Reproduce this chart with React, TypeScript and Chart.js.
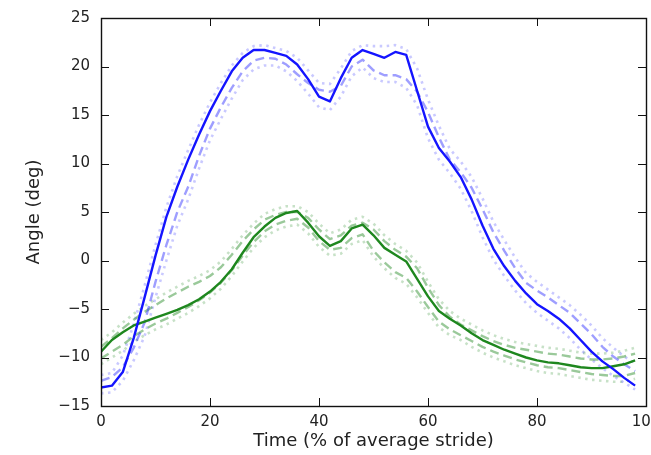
import React, { useEffect, useRef } from "react";
import { Chart, registerables } from "chart.js";

Chart.register(...registerables);

const xs = [0, 2, 4, 6, 8, 10, 12, 14, 16, 18, 20, 22, 24, 26, 28, 30, 32, 34, 36, 38, 40, 42, 44, 46, 48, 50, 52, 54, 56, 58, 60, 62, 64, 66, 68, 70, 72, 74, 76, 78, 80, 82, 84, 86, 88, 90, 92, 94, 96, 98];

const blueSolid = [-13.1, -12.9, -11.5, -8.0, -3.8, 0.5, 4.5, 7.6, 10.4, 13.0, 15.4, 17.5, 19.5, 20.9, 21.7, 21.7, 21.4, 21.1, 20.2, 18.7, 16.9, 16.4, 18.8, 20.9, 21.7, 21.3, 20.9, 21.5, 21.2, 17.5, 13.8, 11.6, 10.2, 8.6, 6.3, 3.6, 1.2, -0.6, -2.1, -3.4, -4.5, -5.2, -6.0, -7.0, -8.2, -9.4, -10.4, -11.2, -12.1, -12.9];
const blueDashed = [-12.4, -12.0, -11.0, -9.0, -6.4, -2.2, 1.6, 5.0, 7.6, 10.8, 13.6, 15.8, 17.8, 19.5, 20.6, 20.9, 20.8, 20.2, 19.2, 18.3, 17.6, 17.4, 18.0, 20.0, 20.7, 19.6, 19.1, 19.1, 18.7, 17.4, 15.3, 12.7, 10.4, 9.1, 7.5, 5.3, 2.9, 1.0, -0.8, -2.3, -3.1, -3.8, -4.6, -5.4, -6.5, -7.6, -8.9, -9.9, -10.7, -11.4];
const blueDotUpper = [-11.8, -11.6, -9.8, -6.6, -2.6, 1.6, 5.5, 8.7, 11.4, 14.0, 16.3, 18.3, 20.1, 21.4, 22.1, 22.2, 21.9, 21.6, 20.9, 19.6, 18.3, 18.2, 19.8, 21.6, 22.2, 22.1, 22.1, 22.2, 21.8, 19.8, 16.6, 13.9, 11.5, 10.2, 8.6, 6.4, 4.0, 2.1, 0.3, -1.3, -2.2, -3.0, -3.8, -4.6, -5.6, -6.7, -8.0, -9.0, -9.9, -10.6];
const blueDotLower = [-13.7, -13.6, -12.4, -10.3, -7.8, -3.8, 0.0, 3.6, 6.3, 9.5, 12.4, 14.6, 16.7, 18.6, 19.7, 20.1, 20.1, 19.5, 18.5, 17.2, 15.8, 15.5, 16.9, 19.0, 19.9, 18.8, 18.4, 18.4, 17.8, 16.0, 12.6, 10.4, 9.0, 7.4, 5.1, 2.4, 0.1, -1.6, -3.1, -4.4, -5.4, -6.2, -7.0, -8.0, -9.2, -10.2, -11.1, -11.9, -12.6, -13.3];

const greenSolid = [-9.4, -8.2, -7.4, -6.7, -6.3, -5.9, -5.5, -5.1, -4.6, -4.0, -3.2, -2.2, -0.9, 0.8, 2.4, 3.5, 4.4, 4.9, 5.1, 3.9, 2.5, 1.5, 2.0, 3.3, 3.7, 2.6, 1.3, 0.6, -0.1, -1.9, -3.7, -5.2, -6.0, -6.7, -7.5, -8.2, -8.7, -9.2, -9.6, -10.0, -10.3, -10.5, -10.6, -10.8, -11.0, -11.1, -11.1, -10.9, -10.7, -10.3];
const greenDashUpper = [-8.9, -8.0, -7.0, -6.1, -5.3, -4.6, -3.9, -3.3, -2.7, -2.2, -1.6, -0.7, 0.6, 2.0, 3.2, 4.2, 4.7, 5.0, 5.0, 4.4, 3.2, 2.2, 2.6, 3.6, 3.9, 3.2, 2.0, 1.1, 0.4, -0.8, -2.8, -4.6, -5.8, -6.6, -7.2, -7.8, -8.3, -8.7, -9.0, -9.2, -9.4, -9.6, -9.7, -9.9, -10.1, -10.2, -10.2, -10.1, -9.9, -9.6];
const greenDashLower = [-10.1, -9.4, -8.7, -7.8, -7.1, -6.5, -6.0, -5.4, -4.8, -4.1, -3.3, -2.3, -1.0, 0.5, 1.9, 3.0, 3.7, 4.1, 4.3, 3.4, 2.0, 1.1, 1.3, 2.3, 2.7, 1.0, -0.2, -1.2, -1.8, -3.2, -4.8, -6.3, -7.1, -7.7, -8.3, -8.9, -9.4, -9.8, -10.2, -10.5, -10.8, -11.0, -11.1, -11.3, -11.5, -11.7, -11.8, -11.9, -11.9, -11.6];
const greenDotUpper = [-8.2, -7.4, -6.4, -5.5, -4.7, -4.0, -3.3, -2.7, -2.1, -1.6, -1.0, -0.1, 1.2, 2.6, 3.8, 4.8, 5.3, 5.6, 5.6, 5.0, 3.8, 2.8, 3.2, 4.2, 4.5, 3.8, 2.6, 1.7, 1.0, -0.2, -2.2, -4.0, -5.2, -6.0, -6.6, -7.2, -7.7, -8.1, -8.4, -8.6, -8.8, -9.0, -9.1, -9.3, -9.5, -9.6, -9.6, -9.5, -9.3, -9.0];
const greenDotLower = [-10.7, -10.0, -9.3, -8.4, -7.7, -7.1, -6.6, -6.0, -5.4, -4.7, -3.9, -2.9, -1.6, -0.1, 1.3, 2.4, 3.1, 3.5, 3.7, 2.8, 1.4, 0.5, 0.7, 1.7, 2.1, 0.4, -0.8, -1.8, -2.4, -3.8, -5.4, -6.9, -7.7, -8.2, -8.9, -9.5, -10.0, -10.4, -10.8, -11.1, -11.4, -11.6, -11.7, -11.9, -12.1, -12.3, -12.4, -12.5, -12.5, -12.2];

const xTicks = [0, 20, 40, 60, 80, 100];
const yTicks = [-15, -10, -5, 0, 5, 10, 15, 20, 25];

const BLUE = "rgb(20,20,255)";
const GREEN = "rgb(30,135,30)";

function pts(arr: number[]) {
  return xs.map((x, i) => ({ x, y: arr[i] }));
}

function ds(label: string, arr: number[], color: string, kind: "solid" | "dash" | "dot") {
  return {
    label,
    data: pts(arr),
    borderColor: color,
    borderWidth: kind === "solid" ? 2.4 : kind === "dash" ? 2.4 : 2.6,
    borderDash: kind === "dash" ? [9, 5] : kind === "dot" ? [2.5, 4.5] : [],
    borderCapStyle: "butt",
    borderJoinStyle: "round",
    pointRadius: 0,
    fill: false,
    tension: 0,
  };
}

const frame = {
  id: "frame",
  afterDraw(chart: any) {
    const { ctx, chartArea: a, scales } = chart;
    const x = scales.x;
    const y = scales.y;
    ctx.save();
    ctx.strokeStyle = "#111";
    ctx.lineWidth = 1;
    ctx.beginPath();
    xTicks.forEach((v) => {
      const px = Math.round(x.getPixelForValue(v)) + 0.5;
      ctx.moveTo(px, a.bottom);
      ctx.lineTo(px, a.bottom - 8);
      ctx.moveTo(px, a.top);
      ctx.lineTo(px, a.top + 8);
    });
    yTicks.forEach((v) => {
      const py = Math.round(y.getPixelForValue(v)) + 0.5;
      ctx.moveTo(a.left, py);
      ctx.lineTo(a.left + 8, py);
      ctx.moveTo(a.right, py);
      ctx.lineTo(a.right - 8, py);
    });
    ctx.stroke();
    ctx.lineWidth = 1.4;
    ctx.strokeRect(Math.round(a.left) + 0.5, Math.round(a.top) + 0.5, Math.round(a.right - a.left), Math.round(a.bottom - a.top));
    ctx.restore();
  },
};

export default function App() {
  const ref = useRef<HTMLCanvasElement>(null);
  useEffect(() => {
    if (!ref.current) return;
    const fontFam = "'DejaVu Sans', sans-serif";
    const chart = new Chart(ref.current, {
      type: "line",
      data: {
        datasets: [
          ds("blue", blueSolid, BLUE, "solid"),
          ds("green", greenSolid, GREEN, "solid"),
          ds("blue mean", blueDashed, "rgba(40,40,255,0.45)", "dash"),
          ds("green upper", greenDashUpper, "rgba(30,135,30,0.45)", "dash"),
          ds("green lower", greenDashLower, "rgba(30,135,30,0.45)", "dash"),
          ds("blue upper", blueDotUpper, "rgba(40,40,255,0.25)", "dot"),
          ds("blue lower", blueDotLower, "rgba(40,40,255,0.25)", "dot"),
          ds("green dot upper", greenDotUpper, "rgba(30,135,30,0.25)", "dot"),
          ds("green dot lower", greenDotLower, "rgba(30,135,30,0.25)", "dot"),
        ] as any,
      },
      plugins: [frame],
      options: {
        animation: false,
        responsive: false,
        layout: { padding: { left: 0, top: 18, right: 5, bottom: 0 } },
        plugins: { legend: { display: false }, tooltip: { enabled: false } },
        scales: {
          x: {
            type: "linear",
            min: 0,
            max: 100,
            afterBuildTicks: (s: any) => {
              s.ticks = xTicks.map((v) => ({ value: v }));
            },
            afterFit: (s: any) => {
              s.height = 49;
              s.paddingLeft = 0;
              s.paddingRight = 0;
            },
            grid: { display: false, drawTicks: false },
            border: { display: false },
            ticks: {
              padding: 7,
              color: "#222",
              font: { family: fontFam, size: 15 },
              maxRotation: 0,
              autoSkip: false,
              callback: (v: any) => String(v),
            },
            title: {
              display: true,
              text: "Time (% of average stride)",
              color: "#222",
              font: { family: fontFam, size: 18 },
              padding: { top: 0, bottom: 3 },
            },
          },
          y: {
            type: "linear",
            min: -15,
            max: 25,
            afterBuildTicks: (s: any) => {
              s.ticks = yTicks.map((v) => ({ value: v }));
            },
            afterFit: (s: any) => {
              s.width = 101;
              s.paddingTop = 0;
              s.paddingBottom = 0;
            },
            grid: { display: false, drawTicks: false },
            border: { display: false },
            ticks: {
              padding: 11,
              color: "#222",
              font: { family: fontFam, size: 15 },
              autoSkip: false,
              callback: (v: any) => (v < 0 ? "\u2212" + Math.abs(v) : String(v)),
            },
            title: {
              display: true,
              text: "Angle (deg)",
              color: "#222",
              font: { family: fontFam, size: 18 },
              padding: { top: 24, bottom: 0 },
            },
          },
        },
      } as any,
    });
    return () => chart.destroy();
  }, []);
  return (
    <div style={{ position: "fixed", left: 0, top: 0, width: 651, height: 455, background: "#fff" }}>
      <canvas ref={ref} width={651} height={455} style={{ display: "block" }} />
    </div>
  );
}
